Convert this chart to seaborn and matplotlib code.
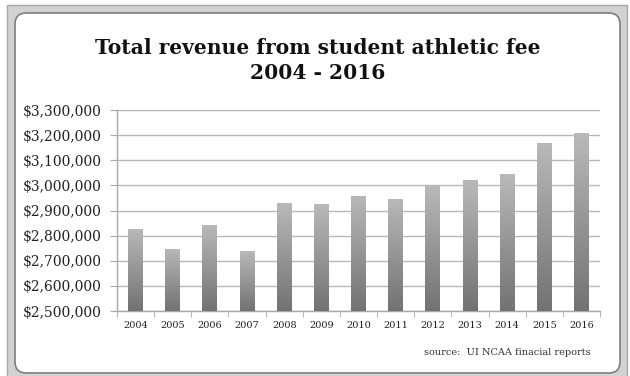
import numpy as np
import pandas as pd
import seaborn as sns
import matplotlib.pyplot as plt
from matplotlib.patches import FancyBboxPatch, Rectangle
from matplotlib.colors import LinearSegmentedColormap
from matplotlib.ticker import FuncFormatter, FixedLocator

# data
years = ['2004', '2005', '2006', '2007', '2008', '2009', '2010',
         '2011', '2012', '2013', '2014', '2015', '2016']
revenue = [2828000, 2747000, 2844000, 2737000, 2928000, 2924000, 2959000,
           2947000, 2996000, 3023000, 3045000, 3167000, 3208000]
y_ticks = [2500000, 2600000, 2700000, 2800000, 2900000,
           3000000, 3100000, 3200000, 3300000]

df = pd.DataFrame({'year': years, 'revenue': revenue})

sns.set_style('white')
plt.rcParams['font.family'] = ['DejaVu Serif']

fig = plt.figure(figsize=(6.3, 3.76), dpi=100)

# background frame in pixel coordinates
bg = fig.add_axes([0, 0, 1, 1])
bg.set_xlim(0, 630)
bg.set_ylim(376, 0)
bg.axis('off')
bg.add_patch(Rectangle((7, 5), 620, 380, fc='#d2d2d2', ec='#a6a6a6', lw=1))
bg.add_patch(FancyBboxPatch((15, 13), 605, 360, boxstyle='round,pad=0,rounding_size=11',
                            fc='white', ec='#7e7e7e', lw=1.2))

ax = fig.add_axes([117 / 630, 1 - 311 / 376, 483 / 630, 201 / 376])
ax.set_facecolor('none')
sns.barplot(data=df, x='year', y='revenue', color='#999999', width=0.4,
            saturation=1, ax=ax, zorder=2)

# vertical grey gradient inside each bar, light at top
cmap = LinearSegmentedColormap.from_list('bar', ['#b9b9b9', '#727272'])
grad = np.linspace(0, 1, 256).reshape(-1, 1)
for bar in ax.patches:
    x0, y0 = bar.get_x(), 2500000
    x1, y1 = x0 + bar.get_width(), bar.get_height()
    im = ax.imshow(grad, cmap=cmap, aspect='auto',
                   extent=[x0, x1, y0, y1], origin='upper', zorder=3)
    im.set_clip_path(bar)
    bar.set_facecolor('none')
    bar.set_edgecolor('none')
ax.set_xlim(-0.5, len(years) - 0.5)
ax.set_ylim(2500000, 3300000)

ax.yaxis.set_major_locator(FixedLocator(y_ticks))
ax.yaxis.set_major_formatter(FuncFormatter(lambda v, p: '${:,.0f}'.format(v)))
ax.grid(axis='y', color='#b8b8b8', lw=1, zorder=0)
ax.set_axisbelow(True)

for s in ['top', 'right']:
    ax.spines[s].set_visible(False)
for s in ['left', 'bottom']:
    ax.spines[s].set_color('#a8a8a8')
    ax.spines[s].set_linewidth(1)

ax.tick_params(axis='y', left=True, length=5, color='#a8a8a8', labelsize=10,
               labelcolor='#222222', pad=6)
ax.tick_params(axis='x', which='major', length=0, labelsize=7, labelcolor='#222222', pad=7)
ax.set_xticks(np.arange(-0.5, len(years), 1), minor=True)
ax.tick_params(axis='x', which='minor', bottom=True, length=4, color='#a8a8a8')
ax.set_xlabel('')
ax.set_ylabel('')

fig.text(0.505, 0.84, 'Total revenue from student athletic fee\n2004 - 2016',
         ha='center', va='center', fontsize=14.6, fontweight='bold',
         linespacing=1.3, color='#111111')
fig.text(0.937, 0.062, 'source:  UI NCAA finacial reports', ha='right',
         va='center', fontsize=7, color='#333333')

fig.savefig('out.png', dpi=100)
